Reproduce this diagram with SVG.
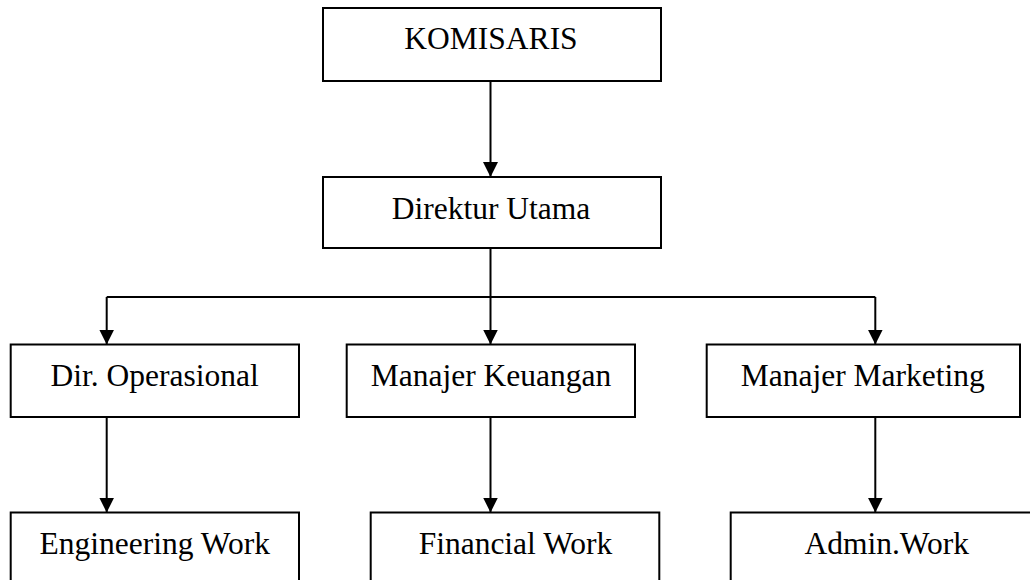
<svg xmlns="http://www.w3.org/2000/svg" width="1030" height="580" viewBox="0 0 1030 580">
  <style>
    .box { fill: #ffffff; stroke: #000000; stroke-width: 2; }
    .lbl { font-family: "Liberation Serif", "Times New Roman", serif; font-size: 31.5px; fill: #000000; text-anchor: middle; }
    .conn { fill: none; stroke: #000000; stroke-width: 2; }
    .arr { marker-end: url(#ah); }
  </style>
  <defs>
    <marker id="ah" markerUnits="userSpaceOnUse" markerWidth="15" markerHeight="15" refX="15" refY="7.5" orient="auto">
      <path d="M0,0 L15,7.5 L0,15 Z" fill="#000000"/>
    </marker>
  </defs>
  <rect width="1030" height="580" fill="#ffffff"/>
  <g id="connectors">
    <line class="conn arr" x1="490.5" y1="81" x2="490.5" y2="177"/>
    <polyline class="conn" points="490.5,248 490.5,297"/>
    <line class="conn" x1="106.7" y1="297" x2="875.3" y2="297"/>
    <line class="conn arr" x1="106.7" y1="297" x2="106.7" y2="344.5"/>
    <line class="conn arr" x1="490.5" y1="297" x2="490.5" y2="344.5"/>
    <line class="conn arr" x1="875.3" y1="297" x2="875.3" y2="344.5"/>
    <line class="conn arr" x1="106.7" y1="417" x2="106.7" y2="512.5"/>
    <line class="conn arr" x1="490.5" y1="417" x2="490.5" y2="512.5"/>
    <line class="conn arr" x1="875.3" y1="417" x2="875.3" y2="512.5"/>
  </g>
  <g id="komisaris">
    <rect class="box" x="323" y="8" width="338" height="73"/>
    <text class="lbl" x="491" y="48.5">KOMISARIS</text>
  </g>
  <g id="direktur-utama">
    <rect class="box" x="323" y="177" width="338" height="71"/>
    <text class="lbl" x="491" y="218.5">Direktur Utama</text>
  </g>
  <g id="dir-operasional">
    <rect class="box" x="10.7" y="344.5" width="288.3" height="72.5"/>
    <text class="lbl" x="154.7" y="386">Dir. Operasional</text>
  </g>
  <g id="manajer-keuangan">
    <rect class="box" x="346.7" y="344.5" width="288.3" height="72.5"/>
    <text class="lbl" x="491" y="386">Manajer Keuangan</text>
  </g>
  <g id="manajer-marketing">
    <rect class="box" x="706.7" y="344.5" width="313.3" height="72.5"/>
    <text class="lbl" x="862.8" y="386">Manajer Marketing</text>
  </g>
  <g id="engineering-work">
    <rect class="box" x="10.7" y="512.5" width="288.3" height="100"/>
    <text class="lbl" x="154.7" y="554">Engineering Work</text>
  </g>
  <g id="financial-work">
    <rect class="box" x="370.7" y="512.5" width="288.6" height="100"/>
    <text class="lbl" x="515.5" y="554">Financial Work</text>
  </g>
  <g id="admin-work">
    <rect class="box" x="730.7" y="512.5" width="320" height="100"/>
    <text class="lbl" x="886.7" y="554">Admin.Work</text>
  </g>
</svg>
